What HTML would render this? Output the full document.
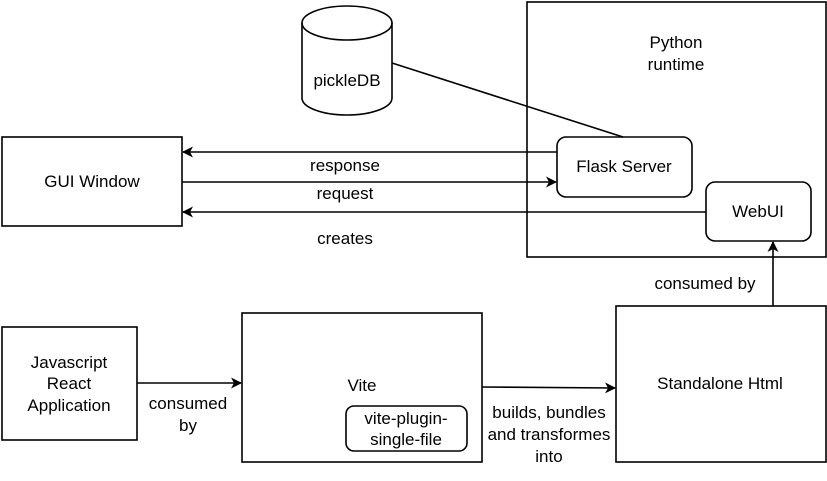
<!DOCTYPE html>
<html><head><style>body{margin:0;background:#fff}</style></head><body>
<svg width="827" height="476" xmlns="http://www.w3.org/2000/svg" font-family="Liberation Sans, sans-serif" font-size="17">
<defs><marker id="a" markerWidth="12" markerHeight="12" refX="10" refY="5.5" orient="auto" markerUnits="userSpaceOnUse"><path d="M0,0 L11,5.5 L0,11 L3,5.5 Z" fill="#000"/></marker></defs>
<g fill="none" stroke="#000" stroke-width="1.6">
<path d="M302,23 A45,17 0 0 1 392,23 L392,98 A45,17 0 0 1 302,98 Z" fill="#fff"/>
<path d="M302,23 A45,17 0 0 0 392,23"/>
<rect x="527" y="2" width="299" height="255"/>
<rect x="557" y="137" width="135" height="60" rx="9"/>
<rect x="706" y="182" width="105" height="59" rx="9"/>
<rect x="2" y="137" width="180" height="89"/>
<rect x="2" y="327" width="135" height="113"/>
<rect x="242" y="313" width="240" height="149"/>
<rect x="346" y="406" width="121" height="45" rx="8"/>
<rect x="616" y="306" width="210" height="156"/>
<path d="M392,63 L623,137"/>
<path d="M557,152 L183,152" marker-end="url(#a)"/>
<path d="M182,182 L556,182" marker-end="url(#a)"/>
<path d="M706,212 L183,212" marker-end="url(#a)"/>
<path d="M137,383 L241,383" marker-end="url(#a)"/>
<path d="M482,387 L615,388" marker-end="url(#a)"/>
<path d="M773,306 L773,242" marker-end="url(#a)"/>
</g>
<g text-anchor="middle" fill="#000">
<text x="347" y="86">pickleDB</text>
<text x="676" y="48">Python</text><text x="676" y="70">runtime</text>
<text x="624" y="172">Flask Server</text>
<text x="758" y="217">WebUI</text>
<text x="92" y="187">GUI Window</text>
<text x="345" y="171">response</text>
<text x="345" y="199">request</text>
<text x="345" y="244">creates</text>
<text x="69" y="368">Javascript</text><text x="69" y="389">React</text><text x="69" y="411">Application</text>
<text x="362" y="391">Vite</text>
<text x="406" y="424">vite-plugin-</text><text x="406" y="445">single-file</text>
<text x="720" y="389">Standalone Html</text>
<text x="188" y="409">consumed</text><text x="188" y="431">by</text>
<text x="549" y="418">builds, bundles</text><text x="549" y="440">and transformes</text><text x="549" y="462">into</text>
<text x="705" y="289">consumed by</text>
</g>
</svg>
</body></html>
